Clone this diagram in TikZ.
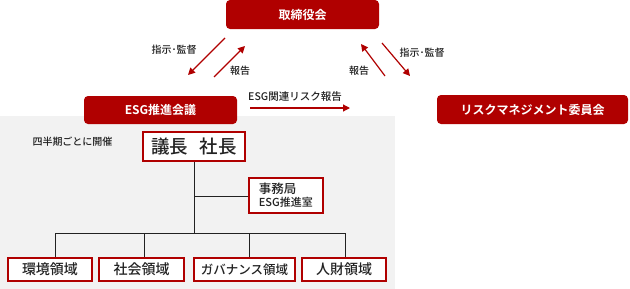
\documentclass[tikz,border=0pt]{standalone}
\usepackage{fontspec}
\setmainfont{Noto Sans CJK JP Medium}[BoldFont={Noto Sans CJK JP Bold}]
\usetikzlibrary{arrows.meta}
\definecolor{brand}{HTML}{B00000}
\definecolor{panel}{HTML}{F2F2F2}
\definecolor{ink}{HTML}{222222}
\tikzset{
  redbox/.style={fill=brand, rounded corners=4pt, text=white, font=\bfseries\fontsize{12}{14}\selectfont, inner sep=0pt},
  wbox/.style={draw=brand, line width=1.6pt, fill=white, inner sep=0pt, text=ink},
  rarrow/.style={draw=brand, line width=1.2pt, -{Triangle[length=7pt,width=7pt]}},
  lbl/.style={font=\fontsize{10}{12}\selectfont, inner sep=0pt, text=ink},
  tree/.style={draw=ink, line width=0.8pt}
}
\begin{document}
\begin{tikzpicture}[x=1pt,y=-1pt]
\useasboundingbox (0,0) rectangle (630,289);
\fill[panel] (0,116) rectangle (395,289);

\node[redbox, minimum width=153pt, minimum height=29pt] (board) at (302.5,14.5) {取締役会};
\node[redbox, minimum width=153pt, minimum height=28pt] (esg) at (160.5,110) {ESG推進会議};
\node[redbox, minimum width=191pt, minimum height=29pt] (risk) at (532.5,109.5) {リスクマネジメント委員会};

% left pair
\coordinate (l1s) at (225,38); \coordinate (l1e) at (188,75);
\coordinate (l2s) at (214,77); \coordinate (l2e) at (245,46);
\draw[rarrow] (l1s) -- (l1e);
\draw[rarrow] (l2s) -- (l2e);
\node[lbl] (lt1) at (174,50) {指示･監督};
\node[lbl] (lt2) at (240,71) {報告};
% right pair
\coordinate (r1s) at (385,76); \coordinate (r1e) at (361,44);
\coordinate (r2s) at (382,43); \coordinate (r2e) at (410,76);
\draw[rarrow] (r1s) -- (r1e);
\draw[rarrow] (r2s) -- (r2e);
\node[lbl] (rt1) at (359,71) {報告};
\node[lbl] (rt2) at (422,53) {指示･監督};
% esg -> risk
\coordinate (er1) at (250,108); \coordinate (er2) at (350,108);
\draw[rarrow] (er1) -- (er2);
\node[lbl, font=\fontsize{10.5}{12}\selectfont] (ert) at (295,97) {ESG関連リスク報告};

\node[lbl] (quart) at (72.5,142) {四半期ごとに開催};

\node[wbox, minimum width=102pt, minimum height=29pt, font=\fontsize{18.5}{20}\selectfont] (chair) at (194,146.5) {議長\hspace{0.6em}社長};
\node[wbox, minimum width=74pt, minimum height=35pt, align=left, inner xsep=4pt, anchor=west] (sec) at (248,195.5)
  {{\fontsize{12.5}{14}\selectfont 事務局}\\[1pt]{\fontsize{11}{12}\selectfont ESG推進室}};

\tikzset{bbox/.style={wbox, minimum height=23pt, font=\fontsize{14}{16}\selectfont}}
\node[bbox, minimum width=84pt] (env) at (50,269.5) {環境領域};
\node[bbox, minimum width=85pt] (soc) at (141.5,269.5) {社会領域};
\node[bbox, minimum width=101pt, font=\fontsize{12.5}{14}\selectfont] (gov) at (244.5,269.5) {ガバナンス領域};
\node[bbox, minimum width=84pt] (hr) at (344,269.5) {人財領域};

\coordinate (junc) at (194,233);
\coordinate (secj) at (194,196);
\coordinate (j1) at (55,233);
\coordinate (j2) at (144,233);
\coordinate (j3) at (249,233);
\coordinate (j4) at (345,233);
\draw[tree] (chair.south) -- (junc);
\draw[tree] (secj) -- (secj -| sec.west);
\draw[tree] (j1) -- (j4);
\draw[tree] (j1) -- (j1 |- env.north);
\draw[tree] (j2) -- (j2 |- soc.north);
\draw[tree] (j3) -- (j3 |- gov.north);
\draw[tree] (j4) -- (j4 |- hr.north);
\end{tikzpicture}
\end{document}
